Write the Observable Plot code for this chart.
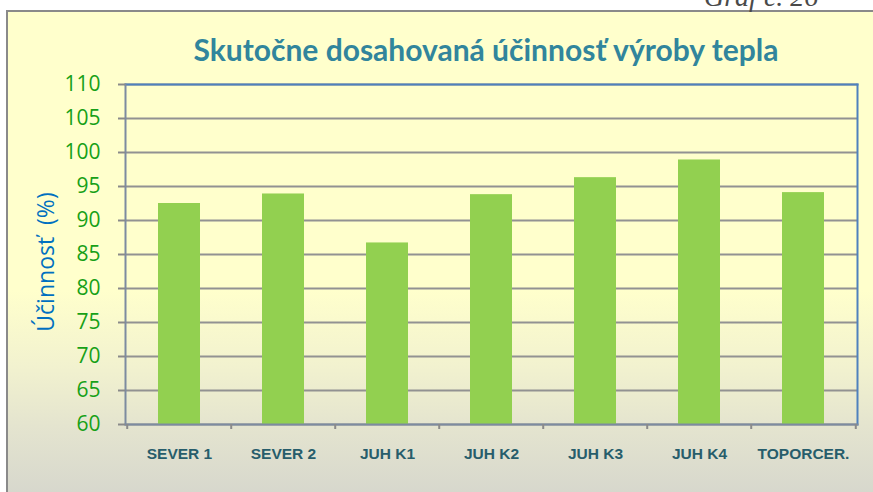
<!DOCTYPE html>
<html><head><meta charset="utf-8">
<script src="https://cdn.jsdelivr.net/npm/d3@7"></script>
<script src="https://cdn.jsdelivr.net/npm/@observablehq/plot@0.6"></script>
<style>
body{margin:0;background:#fff;}
#wrap{position:relative;width:873px;height:492px;overflow:hidden;background:#fff;font-family:"Open Sans",sans-serif;}
#frame{position:absolute;left:6px;top:10px;width:890px;height:510px;border:2px solid #8a8a8a;box-sizing:border-box;
 background:linear-gradient(to bottom,#ffffcc 0%,#ffffcc 55%,#f2f2cf 70%,#e4e4cf 82%,#d2d3cc 100%);}
#graf{position:absolute;left:704px;top:-19px;font-family:"Liberation Serif",serif;font-style:italic;font-size:28px;color:#4a4a4a;}
#title{position:absolute;left:0;width:972px;top:31px;text-align:center;font-family:Lato,sans-serif;font-weight:bold;font-size:30px;color:#31859c;}
#ytitle{position:absolute;left:45px;top:262px;transform:translate(-50%,-50%) rotate(-90deg);white-space:pre;font-family:"Open Sans",sans-serif;font-size:23px;color:#0070c0;}
#chart{position:absolute;left:0;top:0;}
</style></head>
<body>
<div id="wrap">
 <div id="frame"></div>
 <div id="graf">Graf č. 26</div>
 <div id="title">Skutočne dosahovaná účinnosť výroby tepla</div>
 <div id="ytitle">Účinnosť  (%)</div>
 <div id="chart"></div>
</div>
<script>
const categories = ["SEVER 1","SEVER 2","JUH K1","JUH K2","JUH K3","JUH K4","TOPORCER."];
const values = [92.5, 93.9, 86.7, 93.8, 96.3, 98.9, 94.1];
const yTicks = [60,65,70,75,80,85,90,95,100,105,110];

const data = categories.map((c,i)=>({cat:c, value:values[i]}));
const W=873, H=492, ml=125, mr=16, mt=84, mb=68;
const step = (W-ml-mr)/categories.length;

const chart = Plot.plot({
  width:W, height:H, marginLeft:ml, marginRight:mr, marginTop:mt, marginBottom:mb,
  style:{background:"transparent", overflow:"visible"},
  x:{domain:categories, paddingInner:0.6, paddingOuter:0.3, label:null},
  y:{domain:[60,110], label:null},
  marks:[
    Plot.gridY(yTicks, {stroke:"#929292", strokeOpacity:1, strokeWidth:2}),
    Plot.barY(data, {x:"cat", y1:60, y2:"value", fill:"#92d050"}),
    Plot.frame({anchor:"top", stroke:"#4f81bd", strokeWidth:2}),
    Plot.frame({anchor:"right", stroke:"#4f81bd", strokeWidth:2}),
    Plot.frame({anchor:"left", stroke:"#7d8ba0", strokeWidth:2}),
    Plot.frame({anchor:"bottom", stroke:"#7d8ba0", strokeWidth:2}),
    Plot.axisY(yTicks, {tickSize:7, tickFormat:()=>"", stroke:"#8a8a8a", strokeWidth:2, label:null}),
    Plot.axisY(yTicks, {tickSize:0, tickPadding:25, color:"#17a017", fontSize:21, fontFamily:"Open Sans", label:null}),
    Plot.ruleX(categories, {x:d=>d, dx:-step/2, y1:60, y2:60, insetBottom:-5, stroke:"#8a8a8a", strokeWidth:2}),
    Plot.ruleX(categories.slice(-1), {x:d=>d, dx:step/2, y1:60, y2:60, insetBottom:-5, stroke:"#8a8a8a", strokeWidth:2}),
    Plot.axisX(categories, {tickSize:0, tickPadding:23, color:"#275d6b", fontSize:15.5, fontWeight:"bold", fontFamily:"Liberation Sans", label:null})
  ]
});
document.getElementById("chart").appendChild(chart);
</script>
</body></html>
